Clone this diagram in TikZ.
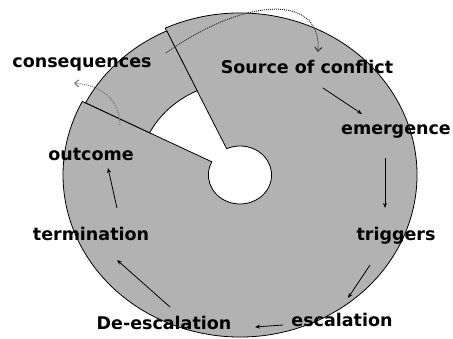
\documentclass[tikz,border=0pt]{standalone}
\usepackage{fontspec}
\setmainfont{DejaVu Sans}
\usetikzlibrary{calc,arrows.meta}
\definecolor{discgray}{gray}{0.70}
\tikzset{
  disc/.style={fill=discgray,draw=black,line width=0.8pt},
  lbl/.style={anchor=base,inner sep=0pt,font=\bfseries\fontsize{17.5}{20}\selectfont},
  flow/.style={line width=0.8pt,-{Stealth[length=5pt,width=4pt]}},
  hint/.style={densely dotted,line width=1pt,-{Straight Barb[length=4pt,width=7pt]}},
}
\begin{document}
\begin{tikzpicture}[x=1pt,y=1pt]
  \useasboundingbox (0,0) rectangle (453,339);
  \coordinate (c) at (240,164);

  % ring
  %edges
  \filldraw[disc] ($(c)+(115:31.6 and 29)$) -- ($(c)+(115:177 and 162)$)
    arc[start angle=115,end angle=-207,x radius=177,y radius=162]
    -- ($(c)+(153:31.6 and 29)$)
    arc[start angle=-207,end angle=115,x radius=31.6,y radius=29] -- cycle;
  \filldraw[disc] ($(c)+(115:173.3 and 159)$)
    arc[start angle=115,end angle=153,x radius=173.3,y radius=159]
    -- ($(c)+(153:101.4 and 93)$)
    arc[start angle=153,end angle=115,x radius=101.4,y radius=93] -- cycle;
  %marks
  \coordinate (bandmark) at (166,286);
  \coordinate (outmark) at (120,214);

  % labels
  \node (cons) [lbl,at={(82,271)}]{consequences};
  \node (src) [lbl,at={(307,265)}]{Source of conflict};
  \node (emg) [lbl,at={(396,204)}]{emergence};
  \node (trg) [lbl,at={(396,98)}]{triggers};
  \node (esc) [lbl,at={(342,12)}]{escalation};
  \node (des) [lbl,at={(164,9)}]{De-escalation};
  \node (ter) [lbl,at={(91,98)}]{termination};
  \node (out) [lbl,at={(91,178)}]{outcome};

  % cycle
  \draw[flow] ([shift={(16,-14)}]src.base) -- ([shift={(-34,21)}]emg.base);
  \draw[flow] ([shift={(-11,-23)}]emg.base) -- ([shift={(-11,33)}]trg.base);
  \draw[flow] ([shift={(-26,-24)}]trg.base) -- ([shift={(6,29)}]esc.base);
  \draw[flow] ([shift={(-59,2)}]esc.base) -- ([shift={(91,3)}]des.base);
  \draw[flow] ([shift={(6,23)}]des.base) -- ([shift={(26,-19)}]ter.base);
  \draw[flow] ([shift={(26,33)}]ter.base) -- ([shift={(17,-7)}]out.base);

  % feedback
  \draw[hint,black!80] (bandmark) .. controls (245,342) and (322,346) .. ([shift={(11,22)}]src.base);
  \draw[hint,black!55] (outmark) .. controls (120,240) and (100,254) .. ([shift={(-8,-15)}]cons.base);
\end{tikzpicture}
\end{document}
